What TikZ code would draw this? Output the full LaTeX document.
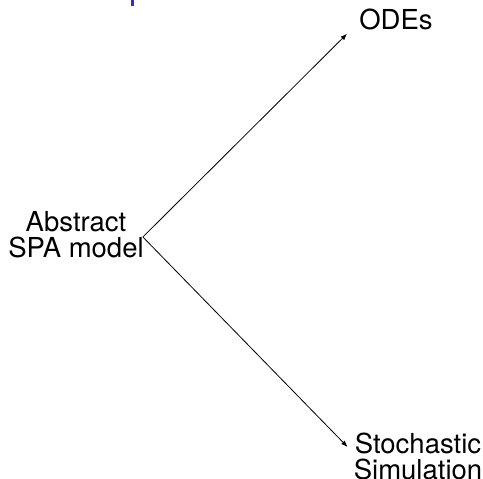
\documentclass[tikz,border=0pt]{standalone}
\usepackage{fontspec}
\setmainfont{TeX Gyre Heros}
\usetikzlibrary{arrows.meta,positioning}
\definecolor{spaBlue}{rgb}{0.2,0.2,0.7}

\begin{document}
\begin{tikzpicture}[x=1pt,y=-1pt,>=Latex,font=\fontsize{27.5}{26}\selectfont,
    lbl/.style={align=center,inner sep=2pt},
    flow/.style={->,line width=0.8pt}]
  \useasboundingbox (0,0) rectangle (483,479);
  % frame title remnant
  \fill[spaBlue] (131,0) rectangle (134,6);
  % models
  \node[lbl] (abstract) at (76,235) {Abstract\\SPA model};
  \node[lbl] (odes) at (396,19) {ODEs};
  \node[lbl] (stoch) at (418,456) {Stochastic\\Simulation};
  \coordinate (apex) at ([xshift=-3pt,yshift=-2pt]abstract.east);
  % derivations
  \draw[flow] (apex) -- ([xshift=-10pt,yshift=-2pt]odes.south west);
  \draw[flow] (apex) -- ([xshift=-4pt,yshift=9pt]stoch.west);
\end{tikzpicture}
\end{document}
